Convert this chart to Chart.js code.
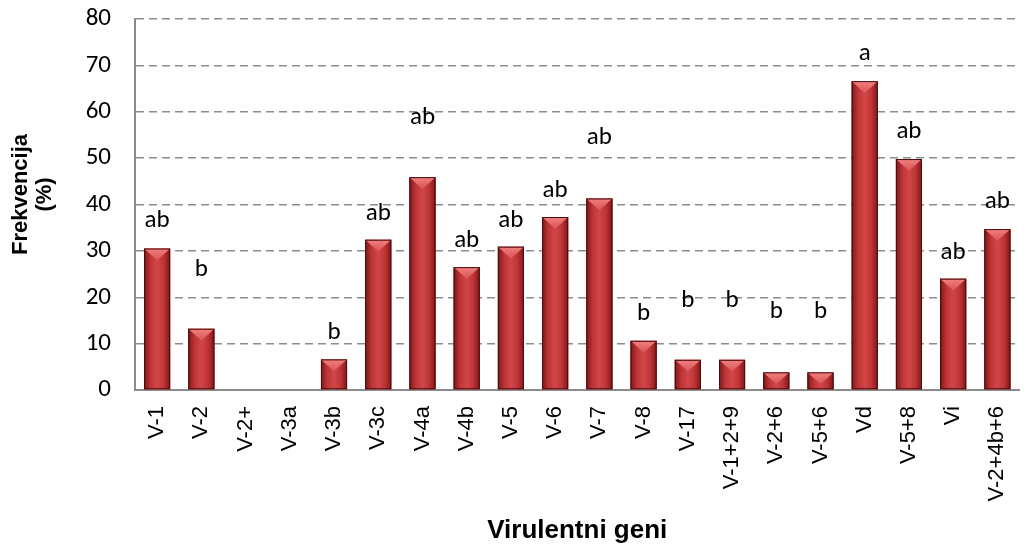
<!DOCTYPE html>
<html>
<head>
<meta charset="utf-8">
<script src="https://cdn.jsdelivr.net/npm/chart.js@4"></script>
<style>
  html, body { margin: 0; padding: 0; background: #fff; overflow: hidden; }
  #wrap { width: 1040px; height: 550px; }
</style>
</head>
<body>
<div id="wrap"><canvas id="myChart" width="1040" height="550"></canvas></div>
<script>
const genes = ['V-1', 'V-2', 'V-2+', 'V-3a', 'V-3b', 'V-3c', 'V-4a', 'V-4b', 'V-5', 'V-6',
    'V-7', 'V-8', 'V-17', 'V-1+2+9', 'V-2+6', 'V-5+6', 'Vd', 'V-5+8', 'Vi', 'V-2+4b+6'];
const frequency = [30.5, 13.2, 0, 0, 6.6, 32.4, 45.9, 26.5, 30.9, 37.3,
    41.3, 10.6, 6.5, 6.5, 3.8, 3.8, 66.6, 49.8, 24.0, 34.7];
const letters = ['ab', 'b', '', '', 'b', 'ab', 'ab', 'ab', 'ab', 'ab',
    'ab', 'b', 'b', 'b', 'b', 'b', 'a', 'ab', 'ab', 'ab'];
// height (in %) where each letter sits
const letterAt = [36.5, 25.9, 0, 0, 12.4, 38.0, 58.8, 32.2, 36.5, 43.0,
    54.3, 16.4, 19.3, 19.3, 16.8, 16.8, 72.5, 55.6, 29.7, 40.5];
const yTicks = [0, 10, 20, 30, 40, 50, 60, 70, 80];
const yTitle = ['Frekvencija', '(%)'];

const tickFont = '"Carlito", "Lato", sans-serif';
const arial = '"Liberation Sans", Arial, sans-serif';

// 3D-ish bar look: shaded column with a light bevel on top
const barLook = {
    id: 'barLook',
    afterDatasetsDraw(chart) {
        const ctx = chart.ctx;
        const meta = chart.getDatasetMeta(0);
        meta.data.forEach(bar => {
            const {x, y, base, width} = bar.getProps(['x', 'y', 'base', 'width'], true);
            const h = base - y;
            if (h < 0.5) return;
            const l = x - width / 2, r = x + width / 2;
            ctx.save();
            const g = ctx.createLinearGradient(l, 0, r, 0);
            g.addColorStop(0, '#7e1718');
            g.addColorStop(0.25, '#bf3537');
            g.addColorStop(0.5, '#d24648');
            g.addColorStop(0.75, '#bf3537');
            g.addColorStop(1, '#7e1718');
            ctx.fillStyle = g;
            ctx.fillRect(l, y, width, h);
            const d = Math.min(h, width * 0.45);
            const tg = ctx.createLinearGradient(0, y, 0, y + d);
            tg.addColorStop(0, '#f28080');
            tg.addColorStop(1, '#d85556');
            ctx.fillStyle = tg;
            ctx.beginPath();
            ctx.moveTo(l, y);
            ctx.lineTo(r, y);
            ctx.lineTo(x, y + d);
            ctx.closePath();
            ctx.fill();
            ctx.strokeStyle = '#4a0b0c';
            ctx.lineWidth = 1;
            ctx.strokeRect(l + 0.5, y + 0.5, width - 1, h - 1);
            ctx.restore();
        });
        // significance letters
        const ys = chart.scales.y;
        ctx.save();
        ctx.font = '25px ' + tickFont;
        ctx.fillStyle = '#000';
        ctx.textAlign = 'center';
        ctx.textBaseline = 'middle';
        meta.data.forEach((bar, i) => {
            if (!letters[i]) return;
            ctx.fillText(letters[i], bar.x, ys.getPixelForValue(letterAt[i]));
        });
        ctx.restore();

        // y axis title, a bit above the middle like the original
        const ca = chart.chartArea;
        ctx.save();
        ctx.font = 'bold 22px ' + arial;
        ctx.fillStyle = '#000';
        ctx.textAlign = 'center';
        ctx.textBaseline = 'middle';
        ctx.translate(21, (ca.top + ca.bottom) / 2 - 10);
        ctx.rotate(-Math.PI / 2);
        yTitle.forEach((t, i) => ctx.fillText(t, 0, i * 24));
        ctx.restore();
    }
};

const ctx = document.getElementById('myChart').getContext('2d');
const myChart = new Chart(ctx, {
    type: 'bar',
    data: {
        labels: genes,
        datasets: [{
            label: 'Frekvencija',
            data: frequency,
            backgroundColor: '#c3393c',
            borderWidth: 0,
            barPercentage: 0.59,
            categoryPercentage: 1
        }]
    },
    options: {
        responsive: false,
        animation: false,
        layout: { padding: { left: 0, right: 8, top: 19, bottom: 0 } },
        plugins: {
            legend: { display: false },
            tooltip: { enabled: false }
        },
        scales: {
            x: {
                grid: { display: false, drawTicks: false },
                border: { display: true, color: '#8c8c8c', width: 2 },
                ticks: {
                    color: '#000',
                    font: { family: arial, size: 22 },
                    minRotation: 90,
                    maxRotation: 90,
                    padding: 16,
                    autoSkip: false
                },
                title: {
                    display: true,
                    text: 'Virulentni geni',
                    color: '#000',
                    font: { family: arial, size: 26, weight: 'bold' },
                    padding: { top: 0, bottom: 4 }
                },
                afterFit: scale => { scale.height = 160; }
            },
            y: {
                min: 0,
                max: 80,
                afterBuildTicks: scale => { scale.ticks = yTicks.map(v => ({ value: v })); },
                grid: { color: '#8c8c8c', lineWidth: 1.5, drawTicks: false },
                border: { display: true, color: '#8c8c8c', width: 2, dash: [8, 5] },
                ticks: {
                    color: '#000',
                    font: { family: tickFont, size: 25 },
                    padding: 24
                },
                afterFit: scale => {
                    scale.width = 135;
                    scale.paddingTop = 0;
                    scale.paddingBottom = 0;
                }
            }
        }
    },
    plugins: [barLook]
});
</script>
</body>
</html>
